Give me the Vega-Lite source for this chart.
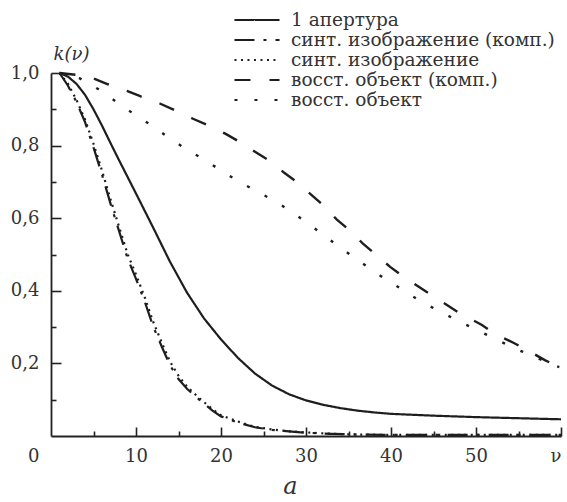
{
  "$schema": "https://vega.github.io/schema/vega-lite/v6.json",
  "autosize": {"type": "none"},
  "padding": {"left": 51, "top": 73, "right": 6, "bottom": 66},
  "width": 510,
  "height": 363,
  "background": "white",
  "config": {
    "view": {"stroke": null},
    "font": "DejaVu Serif"
  },
  "data": {
    "values": [
      {"s": "1 апертура", "v": 1, "k": 1.0},
      {"s": "1 апертура", "v": 2, "k": 0.99},
      {"s": "1 апертура", "v": 3, "k": 0.97},
      {"s": "1 апертура", "v": 4, "k": 0.94},
      {"s": "1 апертура", "v": 5, "k": 0.9},
      {"s": "1 апертура", "v": 6, "k": 0.855},
      {"s": "1 апертура", "v": 7, "k": 0.807},
      {"s": "1 апертура", "v": 8, "k": 0.76},
      {"s": "1 апертура", "v": 10, "k": 0.668},
      {"s": "1 апертура", "v": 12, "k": 0.575},
      {"s": "1 апертура", "v": 14, "k": 0.48},
      {"s": "1 апертура", "v": 16, "k": 0.395},
      {"s": "1 апертура", "v": 18, "k": 0.324},
      {"s": "1 апертура", "v": 20, "k": 0.266},
      {"s": "1 апертура", "v": 22, "k": 0.215},
      {"s": "1 апертура", "v": 24, "k": 0.172},
      {"s": "1 апертура", "v": 26, "k": 0.139},
      {"s": "1 апертура", "v": 28, "k": 0.115},
      {"s": "1 апертура", "v": 30, "k": 0.098},
      {"s": "1 апертура", "v": 32, "k": 0.086},
      {"s": "1 апертура", "v": 34, "k": 0.077},
      {"s": "1 апертура", "v": 36, "k": 0.07},
      {"s": "1 апертура", "v": 38, "k": 0.065},
      {"s": "1 апертура", "v": 40, "k": 0.061},
      {"s": "1 апертура", "v": 45, "k": 0.056},
      {"s": "1 апертура", "v": 50, "k": 0.052},
      {"s": "1 апертура", "v": 55, "k": 0.049},
      {"s": "1 апертура", "v": 60, "k": 0.046},

      {"s": "синт. изображение (комп.)", "v": 1, "k": 1.0},
      {"s": "синт. изображение (комп.)", "v": 2, "k": 0.965},
      {"s": "синт. изображение (комп.)", "v": 3, "k": 0.92},
      {"s": "синт. изображение (комп.)", "v": 4, "k": 0.865},
      {"s": "синт. изображение (комп.)", "v": 5, "k": 0.795},
      {"s": "синт. изображение (комп.)", "v": 6, "k": 0.72},
      {"s": "синт. изображение (комп.)", "v": 7, "k": 0.64},
      {"s": "синт. изображение (комп.)", "v": 8, "k": 0.565},
      {"s": "синт. изображение (комп.)", "v": 9, "k": 0.49},
      {"s": "синт. изображение (комп.)", "v": 10, "k": 0.433},
      {"s": "синт. изображение (комп.)", "v": 11, "k": 0.372},
      {"s": "синт. изображение (комп.)", "v": 12, "k": 0.303},
      {"s": "синт. изображение (комп.)", "v": 13, "k": 0.248},
      {"s": "синт. изображение (комп.)", "v": 14, "k": 0.195},
      {"s": "синт. изображение (комп.)", "v": 15, "k": 0.157},
      {"s": "синт. изображение (комп.)", "v": 16, "k": 0.13},
      {"s": "синт. изображение (комп.)", "v": 17.5, "k": 0.099},
      {"s": "синт. изображение (комп.)", "v": 19, "k": 0.07},
      {"s": "синт. изображение (комп.)", "v": 20, "k": 0.054},
      {"s": "синт. изображение (комп.)", "v": 22, "k": 0.037},
      {"s": "синт. изображение (комп.)", "v": 24, "k": 0.024},
      {"s": "синт. изображение (комп.)", "v": 26, "k": 0.017},
      {"s": "синт. изображение (комп.)", "v": 28, "k": 0.013},
      {"s": "синт. изображение (комп.)", "v": 30, "k": 0.009},
      {"s": "синт. изображение (комп.)", "v": 33, "k": 0.006},
      {"s": "синт. изображение (комп.)", "v": 36, "k": 0.004},
      {"s": "синт. изображение (комп.)", "v": 40, "k": 0.003},
      {"s": "синт. изображение (комп.)", "v": 50, "k": 0.003},
      {"s": "синт. изображение (комп.)", "v": 60, "k": 0.003},

      {"s": "синт. изображение", "v": 1, "k": 1.0},
      {"s": "синт. изображение", "v": 2, "k": 0.97},
      {"s": "синт. изображение", "v": 3, "k": 0.926},
      {"s": "синт. изображение", "v": 4, "k": 0.872},
      {"s": "синт. изображение", "v": 5, "k": 0.805},
      {"s": "синт. изображение", "v": 6, "k": 0.731},
      {"s": "синт. изображение", "v": 7, "k": 0.652},
      {"s": "синт. изображение", "v": 8, "k": 0.577},
      {"s": "синт. изображение", "v": 9, "k": 0.502},
      {"s": "синт. изображение", "v": 10, "k": 0.445},
      {"s": "синт. изображение", "v": 11, "k": 0.384},
      {"s": "синт. изображение", "v": 12, "k": 0.316},
      {"s": "синт. изображение", "v": 13, "k": 0.259},
      {"s": "синт. изображение", "v": 14, "k": 0.205},
      {"s": "синт. изображение", "v": 15, "k": 0.166},
      {"s": "синт. изображение", "v": 16, "k": 0.136},
      {"s": "синт. изображение", "v": 17.5, "k": 0.103},
      {"s": "синт. изображение", "v": 19, "k": 0.074},
      {"s": "синт. изображение", "v": 20, "k": 0.057},
      {"s": "синт. изображение", "v": 22, "k": 0.04},
      {"s": "синт. изображение", "v": 24, "k": 0.025},
      {"s": "синт. изображение", "v": 26, "k": 0.018},
      {"s": "синт. изображение", "v": 28, "k": 0.013},
      {"s": "синт. изображение", "v": 30, "k": 0.01},
      {"s": "синт. изображение", "v": 33, "k": 0.006},
      {"s": "синт. изображение", "v": 36, "k": 0.004},
      {"s": "синт. изображение", "v": 40, "k": 0.003},
      {"s": "синт. изображение", "v": 50, "k": 0.003},
      {"s": "синт. изображение", "v": 60, "k": 0.003},

      {"s": "восст. объект (комп.)", "v": 1, "k": 1.0},
      {"s": "восст. объект (комп.)", "v": 3, "k": 0.995},
      {"s": "восст. объект (комп.)", "v": 5, "k": 0.985},
      {"s": "восст. объект (комп.)", "v": 6.7, "k": 0.969},
      {"s": "восст. объект (комп.)", "v": 9, "k": 0.95},
      {"s": "восст. объект (комп.)", "v": 10.5, "k": 0.936},
      {"s": "восст. объект (комп.)", "v": 12.8, "k": 0.916},
      {"s": "восст. объект (комп.)", "v": 14.6, "k": 0.897},
      {"s": "восст. объект (комп.)", "v": 16.7, "k": 0.874},
      {"s": "восст. объект (комп.)", "v": 18.5, "k": 0.856},
      {"s": "восст. объект (комп.)", "v": 20.5, "k": 0.833},
      {"s": "восст. объект (комп.)", "v": 22.2, "k": 0.81},
      {"s": "восст. объект (комп.)", "v": 24, "k": 0.783},
      {"s": "восст. объект (комп.)", "v": 25.6, "k": 0.76},
      {"s": "восст. объект (комп.)", "v": 27.4, "k": 0.726},
      {"s": "восст. объект (комп.)", "v": 28.9, "k": 0.7},
      {"s": "восст. объект (комп.)", "v": 30.6, "k": 0.665},
      {"s": "восст. объект (комп.)", "v": 32, "k": 0.636},
      {"s": "восст. объект (комп.)", "v": 33.6, "k": 0.597},
      {"s": "восст. объект (комп.)", "v": 35.1, "k": 0.567},
      {"s": "восст. объект (комп.)", "v": 36.7, "k": 0.53},
      {"s": "восст. объект (комп.)", "v": 38.2, "k": 0.5},
      {"s": "восст. объект (комп.)", "v": 39.9, "k": 0.466},
      {"s": "восст. объект (комп.)", "v": 41.5, "k": 0.438},
      {"s": "восст. объект (комп.)", "v": 43.4, "k": 0.409},
      {"s": "восст. объект (комп.)", "v": 45.1, "k": 0.383},
      {"s": "восст. объект (комп.)", "v": 46.9, "k": 0.356},
      {"s": "восст. объект (комп.)", "v": 48.1, "k": 0.338},
      {"s": "восст. объект (комп.)", "v": 50.7, "k": 0.306},
      {"s": "восст. объект (комп.)", "v": 52.4, "k": 0.279},
      {"s": "восст. объект (комп.)", "v": 54.4, "k": 0.257},
      {"s": "восст. объект (комп.)", "v": 56, "k": 0.237},
      {"s": "восст. объект (комп.)", "v": 58.1, "k": 0.209},
      {"s": "восст. объект (комп.)", "v": 59.8, "k": 0.19},

      {"s": "восст. объект", "v": 1, "k": 1.0},
      {"s": "восст. объект", "v": 3.4, "k": 0.985},
      {"s": "восст. объект", "v": 5.6, "k": 0.955},
      {"s": "восст. объект", "v": 7.6, "k": 0.922},
      {"s": "восст. объект", "v": 9.7, "k": 0.888},
      {"s": "восст. объект", "v": 11.8, "k": 0.856},
      {"s": "восст. объект", "v": 13.9, "k": 0.821},
      {"s": "восст. объект", "v": 16, "k": 0.789},
      {"s": "восст. объект", "v": 18.1, "k": 0.76},
      {"s": "восст. объект", "v": 20.3, "k": 0.727},
      {"s": "восст. объект", "v": 22.4, "k": 0.697},
      {"s": "восст. объект", "v": 24.7, "k": 0.668},
      {"s": "восст. объект", "v": 26.9, "k": 0.639},
      {"s": "восст. объект", "v": 28.9, "k": 0.608},
      {"s": "восст. объект", "v": 30.9, "k": 0.574},
      {"s": "восст. объект", "v": 32.9, "k": 0.539},
      {"s": "восст. объект", "v": 35, "k": 0.503},
      {"s": "восст. объект", "v": 37.1, "k": 0.468},
      {"s": "восст. объект", "v": 39.1, "k": 0.436},
      {"s": "восст. объект", "v": 41.3, "k": 0.404},
      {"s": "восст. объект", "v": 43.4, "k": 0.372},
      {"s": "восст. объект", "v": 45.6, "k": 0.345},
      {"s": "восст. объект", "v": 47.9, "k": 0.317},
      {"s": "восст. объект", "v": 50.1, "k": 0.292},
      {"s": "восст. объект", "v": 52.4, "k": 0.266},
      {"s": "восст. объект", "v": 54.6, "k": 0.241},
      {"s": "восст. объект", "v": 56.9, "k": 0.218},
      {"s": "восст. объект", "v": 59.1, "k": 0.195},
      {"s": "восст. объект", "v": 59.8, "k": 0.19}
    ]
  },
  "encoding": {
    "strokeDash": {
      "field": "s",
      "type": "nominal",
      "scale": {
        "domain": ["1 апертура", "синт. изображение (комп.)", "синт. изображение", "восст. объект (комп.)", "восст. объект"],
        "range": [[1, 0], [20, 9, 3, 9], [2, 4.5], [16, 19], [3, 17]]
      },
      "legend": {
        "orient": "none",
        "legendX": 196,
        "legendY": -63,
        "title": null,
        "symbolType": "M-2.65,0H2.65",
        "symbolSize": 289,
        "symbolStrokeWidth": 2.2,
        "symbolStrokeColor": "#1e1e1e",
        "symbolFillColor": "transparent",
        "labelFont": "DejaVu Serif",
        "labelFontSize": 18.5,
        "labelColor": "#333",
        "labelOffset": 24,
        "labelLimit": 400,
        "rowPadding": 0
      }
    }
  },
  "layer": [
    {
      "transform": [{"filter": "datum.s == '1 апертура'"}],
      "mark": {"type": "line", "strokeWidth": 2.2, "color": "#1e1e1e", "clip": false},
      "encoding": {
        "x": {
          "field": "v",
          "type": "quantitative",
          "scale": {"domain": [0, 60], "nice": false, "zero": false},
          "axis": {
            "orient": "bottom",
            "values": [0, 10, 20, 30, 40, 50, 60],
            "labelExpr": "datum.value == 60 ? 'ν' : datum.label",
            "labelFont": "DejaVu Serif",
            "labelFontSize": 18,
            "labelColor": "#333",
            "labelPadding": 11,
            "labelOverlap": false,
            "labelBound": false,
            "labelFlush": false,
            "labelAlign": {"condition": {"test": "datum.value == 0 || datum.value == 60", "value": "right"}, "value": "center"},
            "labelOffset": {"condition": {"test": "datum.value == 0", "value": -12}, "value": 0},
            "ticks": false,
            "domain": true,
            "domainColor": "#222",
            "domainWidth": 1.8,
            "grid": false,
            "title": "а",
            "titleFont": "DejaVu Serif",
            "titleFontStyle": "italic",
            "titleFontWeight": "normal",
            "titleFontSize": 24,
            "titleColor": "#333",
            "titleX": 239,
            "titleY": 50,
            "titleBaseline": "middle",
            "titleAlign": "center"
          }
        },
        "y": {
          "field": "k",
          "type": "quantitative",
          "scale": {"domain": [0, 1], "nice": false, "zero": false},
          "axis": {
            "orient": "left",
            "values": [0.2, 0.4, 0.6, 0.8, 1.0],
            "labelExpr": "replace(format(datum.value, '.1f'), '.', ',')",
            "labelFont": "DejaVu Serif",
            "labelFontSize": 18,
            "labelColor": "#333",
            "labelPadding": 12,
            "labelOverlap": false,
            "labelBound": false,
            "labelFlush": false,
            "ticks": false,
            "domain": true,
            "domainColor": "#222",
            "domainWidth": 1.8,
            "grid": false,
            "title": "k(ν)",
            "titleFont": "DejaVu Serif",
            "titleFontStyle": "italic",
            "titleFontWeight": "normal",
            "titleFontSize": 18,
            "titleColor": "#333",
            "titleAngle": 0,
            "titleX": 20,
            "titleY": -19,
            "titleBaseline": "middle",
            "titleAlign": "center"
          }
        }
      }
    },
    {
      "transform": [{"filter": "datum.s == 'синт. изображение (комп.)' || datum.s == 'синт. изображение'"}],
      "mark": {"type": "line", "strokeWidth": 2.2, "color": "#1e1e1e", "clip": false},
      "encoding": {
        "x": {
          "field": "v",
          "type": "quantitative",
          "axis": {
            "orient": "top",
            "offset": -363,
            "values": [10, 20, 30, 40, 50, 60],
            "labels": false,
            "ticks": true,
            "tickSize": 9,
            "tickColor": "#222",
            "tickWidth": 1.6,
            "domain": false,
            "grid": false,
            "title": null,
            "zindex": 2
          }
        },
        "y": {
          "field": "k",
          "type": "quantitative",
          "axis": {
            "orient": "right",
            "offset": -510,
            "values": [0.2, 0.4, 0.6, 0.8, 1.0],
            "labels": false,
            "ticks": true,
            "tickSize": 10,
            "tickColor": "#222",
            "tickWidth": 1.6,
            "domain": false,
            "grid": false,
            "title": null,
            "zindex": 2
          }
        }
      }
    },
    {
      "transform": [{"filter": "datum.s == 'восст. объект (комп.)' || datum.s == 'восст. объект'"}],
      "mark": {"type": "line", "strokeWidth": 2.4, "color": "#1e1e1e", "clip": false},
      "encoding": {
        "x": {
          "field": "v",
          "type": "quantitative",
          "axis": {
            "orient": "top",
            "offset": -363,
            "values": [5, 15, 25, 35, 45, 55],
            "labels": false,
            "ticks": true,
            "tickSize": 5,
            "tickColor": "#222",
            "tickWidth": 1.6,
            "domain": false,
            "grid": false,
            "title": null,
            "zindex": 2
          }
        },
        "y": {
          "field": "k",
          "type": "quantitative",
          "axis": {
            "orient": "right",
            "offset": -510,
            "values": [0.1, 0.3, 0.5, 0.7, 0.9],
            "labels": false,
            "ticks": true,
            "tickSize": 5,
            "tickColor": "#222",
            "tickWidth": 1.6,
            "domain": false,
            "grid": false,
            "title": null,
            "zindex": 2
          }
        }
      }
    }
  ],
  "resolve": {"axis": {"x": "independent", "y": "independent"}}
}
